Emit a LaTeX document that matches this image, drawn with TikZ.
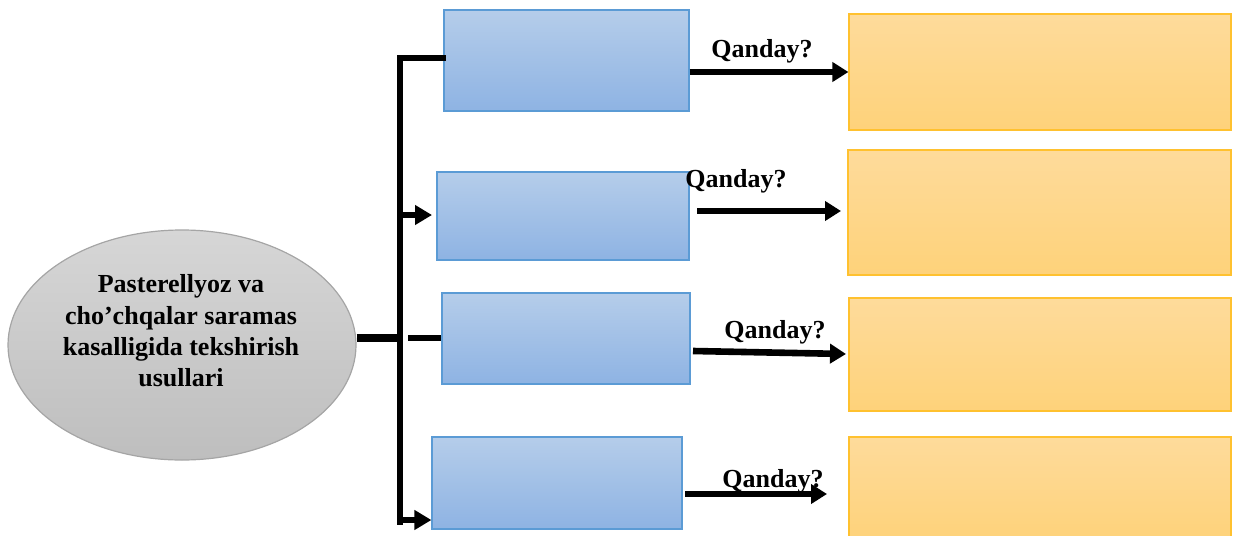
\documentclass[tikz,border=0pt]{standalone}
\usepackage{fontspec}
\setmainfont{Liberation Serif}
\usetikzlibrary{shapes.geometric,arrows.meta,calc}

\definecolor{bluetop}{HTML}{B5CDEA}
\definecolor{bluebot}{HTML}{8EB3E3}
\definecolor{blueedge}{HTML}{5B9BD5}
\definecolor{orgtop}{HTML}{FEDB9B}
\definecolor{orgbot}{HTML}{FED27A}
\definecolor{orgedge}{HTML}{FFC12F}
\definecolor{graytop}{HTML}{D6D6D6}
\definecolor{graybot}{HTML}{BEBEBE}
\definecolor{grayedge}{HTML}{A5A5A5}

\tikzset{
  methodbox/.style={draw=blueedge, line width=0.6pt, top color=bluetop, bottom color=bluebot, inner sep=0pt},
  answerbox/.style={draw=orgedge, line width=0.6pt, top color=orgtop, bottom color=orgbot, inner sep=0pt},
  topic/.style={ellipse, draw=grayedge, line width=0.6pt, top color=graytop, bottom color=graybot, inner sep=0pt},
  bold/.style={font=\bfseries\fontsize{13pt}{15.7pt}\selectfont},
  link/.style={line width=2.6pt},
  pointer/.style={line width=2.6pt, -{Triangle[length=8.5pt,width=9.5pt]}},
  question/.style={line width=3.3pt, -{Triangle[length=8pt,width=9.5pt]}},
}

\begin{document}
\begin{tikzpicture}[x=0.5pt,y=-0.5pt]
  \useasboundingbox (0,0) rectangle (1234,535);

  % central topic
  \node[topic, minimum width=174pt, minimum height=115pt] (topic) at (182,345) {};
  \node[bold, align=center] (title) at (181,331)
    {Pasterellyoz va\\cho’chqalar saramas\\kasalligida tekshirish\\usullari};

  % method boxes
  \node[methodbox, minimum width=122.5pt, minimum height=50.5pt] (m1) at (566.5,60.5) {};
  \node[methodbox, minimum width=126pt, minimum height=44pt] (m2) at (563,216) {};
  \node[methodbox, minimum width=124pt, minimum height=45.5pt] (m3) at (566,338.5) {};
  \node[methodbox, minimum width=125pt, minimum height=46pt] (m4) at (557,483) {};

  % answer boxes
  \node[answerbox, minimum width=191pt, minimum height=58pt] (a1) at (1040,72) {};
  \node[answerbox, minimum width=191.5pt, minimum height=62.5pt] (a2) at (1039.5,212.5) {};
  \node[answerbox, minimum width=191pt, minimum height=56.5pt] (a3) at (1040,354.5) {};
  \node[answerbox, minimum width=191pt, minimum height=52pt] (a4) at (1040,489) {};

  % branching spine
  \coordinate (spinetop) at (400,58);
  \coordinate (spinebot) at (400,522);
  \coordinate (j2) at (400,215);
  \coordinate (j4) at (400,520);
  \coordinate (gapL) at (398,338);
  \coordinate (gapR) at (408,338);

  \draw[link, line cap=rect] (m1.west |- spinetop) -- (spinetop) -- (spinebot);
  \draw[line width=3.6pt] (topic.east |- gapL) -- (gapL);
  \draw[link] (gapR) -- (m3.west |- gapR);
  \draw[pointer] (j2) -- (432,215) coordinate (t2);
  \draw[pointer] (j4) -- (m4.west |- j4);

  % question arrows
  \coordinate (q2s) at (697,211);
  \coordinate (q2e) at (841,211);
  \coordinate (q3s) at (693,351);
  \coordinate (q3e) at (846,354);
  \coordinate (q4s) at (685,494);
  \coordinate (q4e) at (827,494);

  \draw[question] (m1.east |- 0,72) -- (a1.west |- 0,72);
  \draw[question] (q2s) -- (q2e);
  \draw[question] (q3s) -- (q3e);
  \draw[question] (q4s) -- (q4e);

  \node[bold, anchor=base] (l1) at (762,58) {Qanday?};
  \node[bold, anchor=base] (l2) at (736,187) {Qanday?};
  \node[bold, anchor=base] (l3) at (775,338) {Qanday?};
  \node[bold, anchor=base] (l4) at (773,487) {Qanday?};
\end{tikzpicture}
\end{document}
